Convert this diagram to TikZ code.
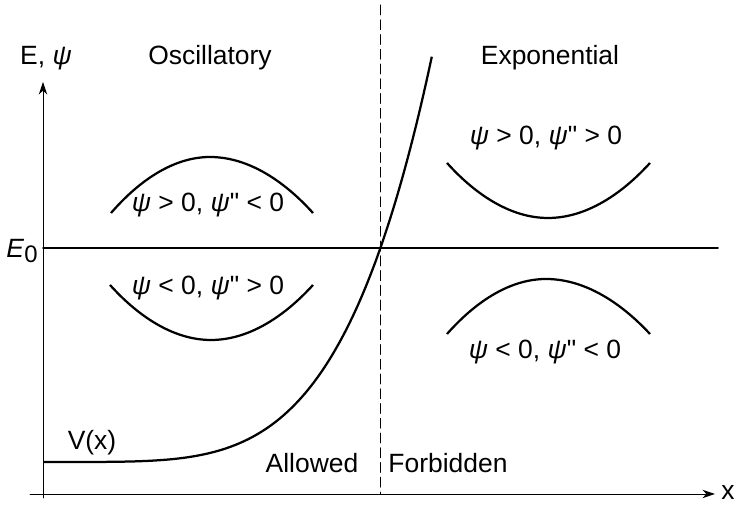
\documentclass[tikz,border=0pt]{standalone}
\usepackage{fontspec}
\setmainfont{Liberation Sans}[Ligatures=TeXOff]
\usepackage{tkz-euclide}
\usetikzlibrary{arrows.meta}
\newcommand{\wpsi}{\textit{ψ}}
\tikzset{lbl/.style={font=\fontsize{18.8}{22}\selectfont,inner sep=1pt},
  curveln/.style={line width=1.6pt,color=black},
  axisln/.style={line width=0.7pt,color=black,-{Stealth[length=9pt,width=6pt]}}}

\begin{document}
\begin{tikzpicture}
\useasboundingbox (0,0) rectangle (18.35,12.625);

% axes and reference lines
\tkzDefPoints{1.075/0.175/Ob,1.075/10.575/Yt,0.75/0.275/Xl,17.875/0.275/Xr}
\tkzDefPoints{1.075/6.425/El,17.95/6.425/Er,9.5/12.5/Dt,9.5/0.275/Db}

% wave function pieces
\tkzDefPoints{2.775/7.3/A,5.25/8.7/Am,7.825/7.3/Ar}
\tkzDefPoints{2.75/5.5/B,5.275/4.125/Bm,7.825/5.5/Br}
\tkzDefPoints{11.175/8.55/C,13.7/7.175/Cm,16.25/8.55/Cr}
\tkzDefPoints{11.175/4.275/D,13.65/5.65/Dm,16.25/4.275/Dr}

\tkzDrawSegment[axisln](Ob,Yt)
\tkzDrawSegment[axisln](Xl,Xr)
\tkzDrawSegment[line width=1.4pt,color=black](El,Er)
\tkzDrawSegment[line width=0.7pt,color=black,dash pattern=on 7pt off 3.5pt](Dt,Db)

% potential V(x)
\draw[curveln] plot[domain=0.01:9.72,samples=90,smooth]
  ({1.075+\x},{1.075+5.325*(\x/8.425)^4.5});

\draw[curveln] (A) parabola bend (Am) (Ar);
\draw[curveln] (B) parabola bend (Bm) (Br);
\draw[curveln] (C) parabola bend (Cm) (Cr);
\draw[curveln] (D) parabola bend (Dm) (Dr);

\node[lbl] (ylab) at (1.15,11.175) {E, \wpsi};
\node[lbl] (xlab) at (18.2,0.3) {x};
\node[lbl] (e0) at (0.55,6.35) {\textit{E}\raisebox{-4pt}{\fontsize{17}{20}\selectfont 0}};
\node[lbl] (vlab) at (2.3,1.55) {V(x)};
\node[lbl] (osc) at (5.25,11.175) {Oscillatory};
\node[lbl] (expo) at (13.75,11.175) {Exponential};
\node[lbl] (allow) at (7.8,1.05) {Allowed};
\node[lbl] (forb) at (11.2,1.05) {Forbidden};

\node[lbl] (ul) at (5.2,7.5) {\wpsi\ > 0, \wpsi" < 0};
\node[lbl] (ll) at (5.2,5.425) {\wpsi\ < 0, \wpsi" > 0};
\node[lbl] (ur) at (13.65,9.175) {\wpsi\ > 0, \wpsi" > 0};
\node[lbl] (lr) at (13.625,3.825) {\wpsi\ < 0, \wpsi" < 0};

\end{tikzpicture}
\end{document}
